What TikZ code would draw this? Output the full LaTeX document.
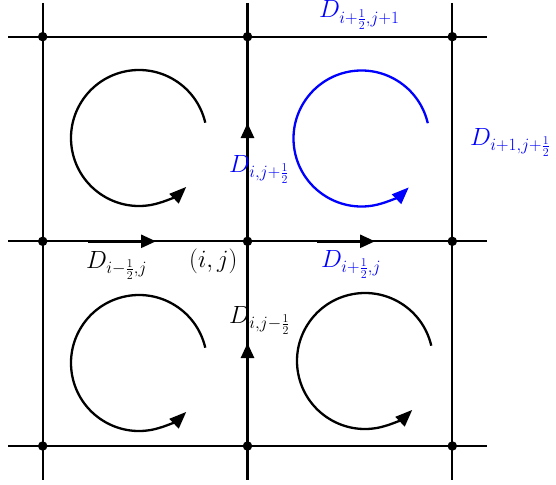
\documentclass[tikz,border=0pt]{standalone}
\usetikzlibrary{arrows.meta}
\begin{document}
\begin{tikzpicture}[x=1pt,y=-1pt,
  gridline/.style={line width=2.2pt},
  dot/.style={circle,fill=black,inner sep=0pt,minimum size=9.5pt},
  flow/.style={line width=2.6pt,-{Triangle[length=15pt,width=13pt]}},
  rot/.style={line width=2.3pt,-{Triangle[length=17pt,width=13pt]}},
  lab/.style={anchor=base west,inner sep=0pt,font=\fontsize{24}{28}\selectfont}]
\useasboundingbox (0,0) rectangle (556,484);
% grid ends
\foreach \n/\x in {1/42.7,2/247.5,3/452.3}{
  \coordinate (t\n) at (\x,3);
  \coordinate (b\n) at (\x,480);
}
\foreach \n/\y in {1/36.7,2/241.3,3/446}{
  \coordinate (l\n) at (8,\y);
  \coordinate (r\n) at (487,\y);
}
\foreach \n in {1,2,3}{
  \draw[gridline] (t\n) -- (b\n);
  \draw[gridline] (l\n) -- (r\n);
}
% intersection dots
\foreach \i/\x in {1/42.7,2/247.5,3/452.3}{
  \foreach \j/\y in {1/36.7,2/241.3,3/446}{
    \node[dot] (n\i\j) at (\x,\y) {};
  }
}
% flux arrows
\coordinate (fa1) at (88,241.3);  \coordinate (fb1) at (156,241.3);
\coordinate (fa2) at (317,241.3); \coordinate (fb2) at (375,241.3);
\coordinate (fa3) at (247.5,200); \coordinate (fb3) at (247.5,123);
\coordinate (fa4) at (247.5,410); \coordinate (fb4) at (247.5,343);
\foreach \k in {1,2,3,4}{ \draw[flow] (fa\k) -- (fb\k); }
% rotation arrows
\coordinate (c1) at (139,138);
\coordinate (c2) at (361.5,138.5);
\coordinate (c3) at (139,363);
\coordinate (c4) at (365,361);
\draw[rot] ([shift={(13:68pt)}]c1) arc[start angle=13,end angle=314,radius=68pt];
\draw[rot,blue] ([shift={(13:68pt)}]c2) arc[start angle=13,end angle=314,radius=68pt];
\draw[rot] ([shift={(13:68pt)}]c3) arc[start angle=13,end angle=314,radius=68pt];
\draw[rot] ([shift={(13:68pt)}]c4) arc[start angle=13,end angle=314,radius=68pt];
% labels
\node[lab,blue] (L1) at (319,18) {$D_{i+\frac{1}{2},j+1}$};
\node[lab,blue] (L2) at (470,145) {$D_{i+1,j+\frac{1}{2}}$};
\node[lab,blue] (L3) at (229,172) {$D_{i,j+\frac{1}{2}}$};
\node[lab] (L4) at (86,268) {$D_{i-\frac{1}{2},j}$};
\node[lab] (L5) at (189,267) {$(i,j)$};
\node[lab,blue] (L6) at (321,267) {$D_{i+\frac{1}{2},j}$};
\node[lab] (L7) at (229,323) {$D_{i,j-\frac{1}{2}}$};
\end{tikzpicture}
\end{document}
